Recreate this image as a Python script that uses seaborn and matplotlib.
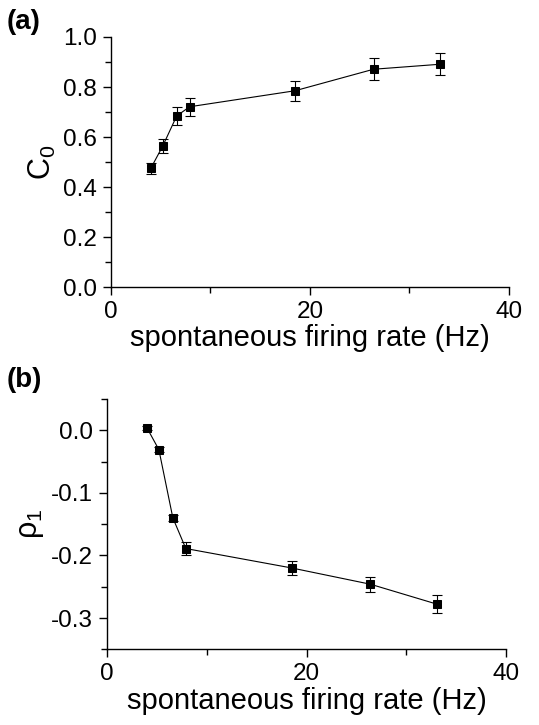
import matplotlib
matplotlib.use('Agg')
import matplotlib.pyplot as plt
from matplotlib.ticker import MultipleLocator
import seaborn as sns
import pandas as pd

# values
rate = [4.0, 5.2, 6.6, 7.9, 18.5, 26.4, 33.1]
c0 = [0.475, 0.564, 0.684, 0.721, 0.785, 0.871, 0.891]
c0_err = [0.021, 0.029, 0.035, 0.037, 0.040, 0.043, 0.045]
rho1 = [0.004, -0.031, -0.140, -0.189, -0.220, -0.246, -0.278]
rho1_err = [0.003, 0.004, 0.005, 0.010, 0.011, 0.012, 0.014]

sns.set_style('ticks')
plt.rcParams['font.family'] = ['Liberation Sans', 'DejaVu Sans']
plt.rcParams['mathtext.fontset'] = 'custom'
plt.rcParams['mathtext.rm'] = 'Liberation Sans'
plt.rcParams['mathtext.it'] = 'Liberation Sans'
for key in ['text.color', 'axes.labelcolor', 'xtick.color', 'ytick.color',
            'axes.edgecolor']:
    plt.rcParams[key] = 'black'

fig = plt.figure(figsize=(5.39, 7.25), dpi=100)
ax_a = fig.add_axes([0.206, 0.604, 0.738, 0.345])
ax_b = fig.add_axes([0.1985, 0.1044, 0.7405, 0.3453])

panels = [
    (ax_a, c0, c0_err, r'C$_0$', (0, 1.0), 0.2, 0.1, '(a)', 0.988),
    (ax_b, rho1, rho1_err, r'$\rho_1$', (-0.35, 0.05), 0.1, 0.05, '(b)', 0.494),
]

for ax, vals, errs, ylab, ylim, major, minor, tag, ty in panels:
    df = pd.DataFrame({'rate': rate, 'val': vals})
    ax.errorbar(rate, vals, yerr=errs, fmt='none', ecolor='black',
                elinewidth=0.8, capsize=3.5, capthick=0.8, zorder=2)
    sns.lineplot(data=df, x='rate', y='val', ax=ax, color='black',
                 linewidth=0.8, marker='s', markersize=6,
                 markerfacecolor='black', markeredgecolor='black', zorder=3)
    ax.set_xlim(0, 40)
    ax.set_ylim(*ylim)
    ax.xaxis.set_major_locator(MultipleLocator(20))
    ax.xaxis.set_minor_locator(MultipleLocator(10))
    ax.yaxis.set_major_locator(MultipleLocator(major))
    ax.yaxis.set_minor_locator(MultipleLocator(minor))
    ax.yaxis.set_major_formatter(matplotlib.ticker.FormatStrFormatter('%.1f'))
    ax.tick_params(which='major', length=6, width=1, labelsize=17.5,
                   direction='out', pad=4)
    ax.tick_params(which='minor', length=4, width=1, direction='out')
    for s in ['top', 'right']:
        ax.spines[s].set_visible(False)
    for s in ['left', 'bottom']:
        ax.spines[s].set_linewidth(1)
    ax.set_xlabel('spontaneous firing rate (Hz)', fontsize=21, labelpad=1)
    ax.set_ylabel(ylab, fontsize=22, labelpad=4)
    fig.text(0.012, ty, tag, fontsize=20, fontweight='bold', va='top')

fig.savefig('out.png', dpi=100)
